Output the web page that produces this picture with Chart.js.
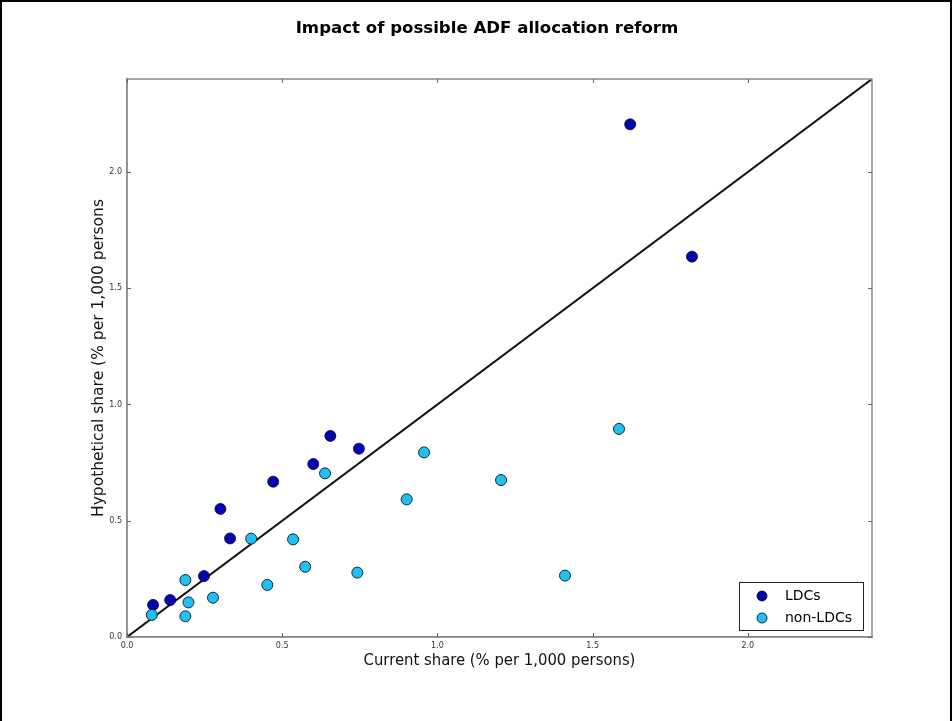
<!DOCTYPE html>
<html>
<head>
<meta charset="utf-8">
<script src="https://cdn.jsdelivr.net/npm/chart.js@4/dist/chart.umd.min.js"></script>
<style>
html,body{margin:0;padding:0;background:#fff;}
#wrap{width:952px;height:721px;position:relative;}
</style>
</head>
<body>
<div id="wrap"><canvas id="c" width="952" height="721"></canvas></div>
<script>
const chartTitle = 'Impact of possible ADF allocation reform';
const xTitle = 'Current share (% per 1,000 persons)';
const yTitle = 'Hypothetical share (% per 1,000 persons';
const tickValues = [0.0, 0.5, 1.0, 1.5, 2.0];
const axisMax = 2.4;

const ldcX = [0.084, 0.139, 0.248, 0.332, 0.301, 0.471, 0.600, 0.655, 0.747, 1.621, 1.820];
const ldcY = [0.138, 0.159, 0.262, 0.424, 0.551, 0.668, 0.744, 0.865, 0.810, 2.205, 1.636];

const nonX = [0.080, 0.188, 0.198, 0.188, 0.277, 0.400, 0.452, 0.535, 0.574, 0.742, 0.638, 0.901, 0.957, 1.205, 1.411, 1.585];
const nonY = [0.095, 0.245, 0.149, 0.089, 0.169, 0.423, 0.224, 0.420, 0.302, 0.277, 0.704, 0.592, 0.794, 0.675, 0.264, 0.895];

const diagX = [0, 2.4];
const diagY = [0, 2.4];

const toPts = (xs, ys) => xs.map((x, i) => ({x: x, y: ys[i]}));

const extras = {
  id: 'extras',
  afterDraw(chart) {
    const ctx = chart.ctx;
    const a = chart.chartArea;
    const xs = chart.scales.x, ys = chart.scales.y;
    ctx.save();
    ctx.strokeStyle = '#8a8a8a';
    ctx.lineWidth = 1.5;
    ctx.strokeRect(a.left, a.top, a.right - a.left, a.bottom - a.top);
    ctx.strokeStyle = '#666';
    ctx.lineWidth = 1;
    ctx.beginPath();
    xs.ticks.forEach(t => {
      const px = Math.round(xs.getPixelForValue(t.value)) + 0.5;
      ctx.moveTo(px, a.bottom); ctx.lineTo(px, a.bottom - 4);
      ctx.moveTo(px, a.top); ctx.lineTo(px, a.top + 4);
    });
    ys.ticks.forEach(t => {
      const py = Math.round(ys.getPixelForValue(t.value)) + 0.5;
      ctx.moveTo(a.left, py); ctx.lineTo(a.left + 4, py);
      ctx.moveTo(a.right, py); ctx.lineTo(a.right - 4, py);
    });
    ctx.stroke();
    ctx.strokeStyle = '#000';
    ctx.lineWidth = 2;
    ctx.beginPath();
    ctx.moveTo(1, 730); ctx.lineTo(1, 1); ctx.lineTo(951, 1); ctx.lineTo(951, 730);
    ctx.stroke();
    ctx.fillStyle = '#000';
    ctx.font = 'bold 16.6px "DejaVu Sans"';
    ctx.textAlign = 'center';
    ctx.textBaseline = 'middle';
    ctx.fillText(chartTitle, 487, 29);
    const lx = 739, ly = 582, lw = 124, lh = 48;
    ctx.fillStyle = '#fff';
    ctx.fillRect(lx, ly, lw, lh);
    ctx.strokeStyle = '#222';
    ctx.lineWidth = 1;
    ctx.strokeRect(lx + 0.5, ly + 0.5, lw, lh);
    const sets = chart.data.datasets.filter(d => d.label);
    sets.forEach((d, i) => {
      const cy = ly + 14 + i * 22;
      ctx.beginPath();
      ctx.arc(lx + 23, cy, 5, 0, Math.PI * 2);
      ctx.fillStyle = d.backgroundColor;
      ctx.fill();
      ctx.strokeStyle = '#000';
      ctx.lineWidth = 0.8;
      ctx.stroke();
      ctx.fillStyle = '#000';
      ctx.font = '14px "DejaVu Sans"';
      ctx.textAlign = 'left';
      ctx.textBaseline = 'middle';
      ctx.fillText(d.label, lx + 46, cy);
    });
    ctx.restore();
  }
};

new Chart(document.getElementById('c'), {
  type: 'scatter',
  data: {
    datasets: [
      {
        label: '',
        data: toPts(diagX, diagY),
        showLine: true,
        borderColor: '#111',
        borderWidth: 2,
        pointRadius: 0,
        order: 3
      },
      {
        label: 'LDCs',
        data: toPts(ldcX, ldcY),
        backgroundColor: '#0505b0',
        borderColor: '#00003a',
        borderWidth: 0.8,
        pointRadius: 5.5,
        order: 2
      },
      {
        label: 'non-LDCs',
        data: toPts(nonX, nonY),
        backgroundColor: '#20c0f0',
        borderColor: '#0a2a3a',
        borderWidth: 1,
        pointRadius: 5.5,
        order: 1
      }
    ]
  },
  options: {
    responsive: false,
    animation: false,
    layout: {padding: {left: 0, right: 80, top: 79, bottom: 0}},
    plugins: {
      legend: {display: false},
      title: {display: false},
      tooltip: {enabled: false}
    },
    scales: {
      x: {
        type: 'linear',
        min: 0, max: axisMax,
        afterFit(s) { s.height = 84; },
        afterBuildTicks(s) { s.ticks = tickValues.map(v => ({value: v})); },
        grid: {display: false, drawTicks: false},
        border: {display: true, color: '#8a8a8a', width: 1.5},
        ticks: {
          padding: 4,
          color: '#333',
          font: {family: 'DejaVu Sans', size: 8},
          maxRotation: 0,
          callback: v => Number(v).toFixed(1)
        },
        title: {
          display: true,
          text: xTitle,
          color: '#111',
          font: {family: 'DejaVu Sans Condensed', size: 16.5},
          padding: {top: 0, bottom: 50}
        }
      },
      y: {
        type: 'linear',
        min: 0, max: axisMax,
        afterFit(s) { s.width = 127; },
        afterBuildTicks(s) { s.ticks = tickValues.map(v => ({value: v})); },
        grid: {display: false, drawTicks: false},
        border: {display: true, color: '#8a8a8a', width: 1.5},
        ticks: {
          padding: 5,
          color: '#333',
          font: {family: 'DejaVu Sans', size: 8},
          callback: v => Number(v).toFixed(1)
        },
        title: {
          display: true,
          text: yTitle,
          color: '#111',
          font: {family: 'DejaVu Sans', size: 15.5},
          padding: {top: 90, bottom: 0}
        }
      }
    }
  },
  plugins: [extras]
});
</script>
</body>
</html>
